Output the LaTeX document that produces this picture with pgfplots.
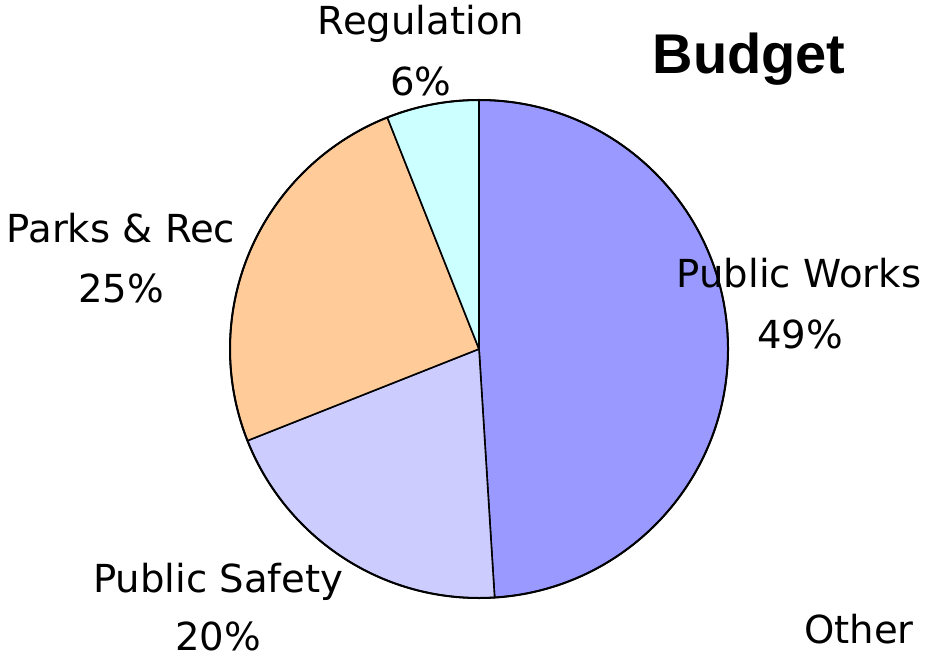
\documentclass[border=0pt]{standalone}
\usepackage{pgfplots}
\pgfplotsset{compat=1.18}
\usepackage{pgfplotstable}
\usepackage{fontspec}
\setmainfont{DejaVu Sans}
\newfontfamily\titlefont{Liberation Sans}

\definecolor{pw}{HTML}{9999FF}
\definecolor{ps}{HTML}{CCCCFF}
\definecolor{pr}{HTML}{FFCC99}
\definecolor{rg}{HTML}{CCFFFF}

% budget shares in percent, clockwise from 12 o'clock
\pgfplotstableread{
share colour
49 pw
20 ps
25 pr
6  rg
0  white
}\budget

\tikzset{lbl/.style={anchor=base, inner sep=0pt, font=\fontsize{19.3}{23}\selectfont}}

\begin{document}
\begin{tikzpicture}
\begin{axis}[
    x=0.5pt, y=0.5pt,
    xmin=0, xmax=930, ymin=0, ymax=659,
    hide axis, clip=false,
  ]
  \path (axis cs:0,0) rectangle (axis cs:930,659);
  \def\angA{90}
  \pgfplotsforeachungrouped \i in {0,...,3}{
    \pgfplotstablegetelem{\i}{share}\of\budget \let\s\pgfplotsretval
    \pgfplotstablegetelem{\i}{colour}\of\budget \let\c\pgfplotsretval
    \pgfmathsetmacro\angB{\angA-3.6*\s}
    \edef\wedge{\noexpand\filldraw[fill=\c, draw=black, line width=0.8pt, line join=round]
      (axis cs:479,310) -- ++(\angA:124.5pt)
      arc[start angle=\angA, end angle=\angB, radius=124.5pt] -- cycle;}
    \wedge
    \global\let\angA\angB
  }
  \draw[line width=1pt] (axis cs:479,310) circle[radius=124.5pt];

  \node[lbl] at (axis cs:421,624) {Regulation};
  \node[lbl] at (axis cs:421,563) {6\%};
  \node[lbl] at (axis cs:799,371) {Public Works};
  \node[lbl] at (axis cs:800,311) {49\%};
  \node[lbl] at (axis cs:121,416) {Parks \& Rec};
  \node[lbl] at (axis cs:121,357) {25\%};
  \node[lbl] at (axis cs:218,67) {Public Safety};
  \node[lbl] at (axis cs:218,9) {20\%};
  \node[lbl] at (axis cs:859,16) {Other};
  \node[anchor=base, inner sep=0pt, font=\titlefont\bfseries\fontsize{28}{34}\selectfont]
    at (axis cs:749,585) {Budget};
\end{axis}
\end{tikzpicture}
\end{document}
